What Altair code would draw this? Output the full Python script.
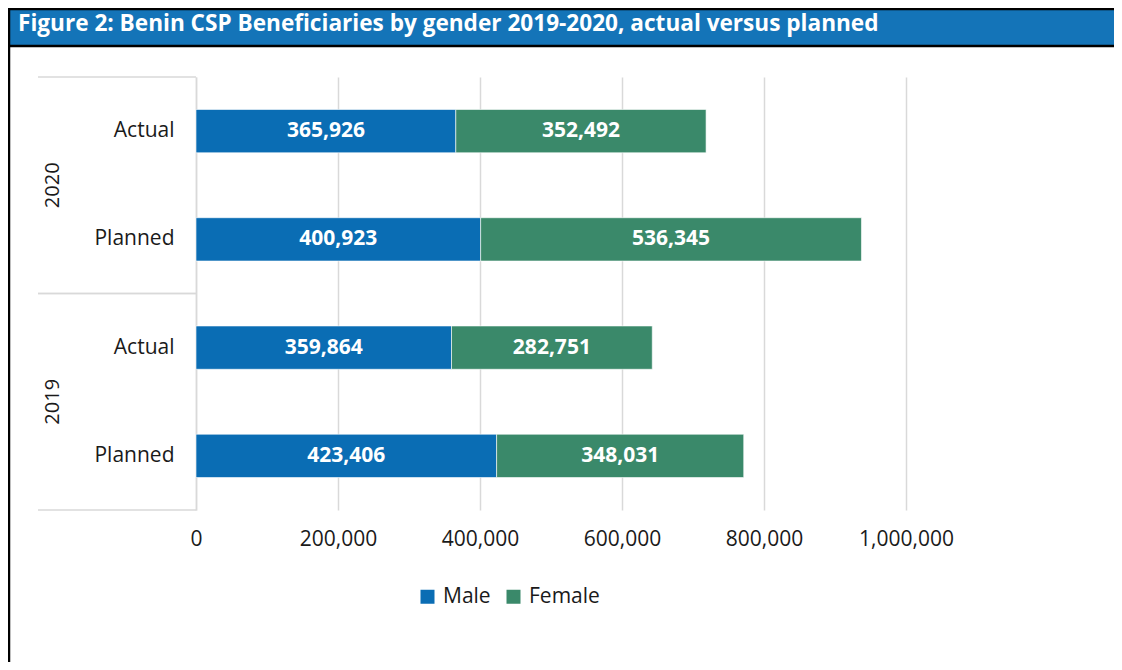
import altair as alt
import pandas as pd

TITLE = "Figure 2: Benin CSP Beneficiaries by gender 2019-2020, actual versus planned"
years = ["2020", "2020", "2019", "2019"]
types = ["Actual", "Planned", "Actual", "Planned"]
male = [365926, 400923, 359864, 423406]
female = [352492, 536345, 282751, 348031]
genders = ["Male", "Female"]
colors = ["#0a6db4", "#3a896a"]
x_ticks = [0, 200000, 400000, 600000, 800000, 1000000]
year_groups = ["2020", "2019"]

rows = []
for y, t, m, f in zip(years, types, male, female):
    key = f"{y}|{t}"
    rows.append(dict(key=key, year=y, type=t, gender="Male", value=m, order=0))
    rows.append(dict(key=key, year=y, type=t, gender="Female", value=f, order=1))
df = pd.DataFrame(rows)
keys = [f"{y}|{t}" for y, t in zip(years, types)]
yr_df = pd.DataFrame({"year": year_groups})

W, H = 710, 433
FONT = "Open Sans"
GRID = "#d9d9d9"
TXT = "#1a1a1a"

xscale = alt.Scale(domain=[0, 1000000], nice=False)
yscale = alt.Scale(domain=keys, paddingInner=0.6, paddingOuter=0.3)
gscale = alt.Scale(domain=year_groups, paddingInner=0, paddingOuter=0)

xaxis = alt.Axis(values=x_ticks, labelExpr="format(datum.value, ',')", grid=True,
                 gridColor=GRID, gridWidth=1.5, domain=False, ticks=False,
                 labelFontSize=21, labelPadding=18, labelColor=TXT, labelFont=FONT,
                 labelFlush=False, title=None)

bars = alt.Chart(df).mark_bar(stroke="white", strokeWidth=0.6).encode(
    x=alt.X("value:Q", stack="zero", scale=xscale, axis=xaxis),
    y=alt.Y("key:N", scale=yscale,
            axis=alt.Axis(labelExpr="split(datum.label, '|')[1]", ticks=False,
                          domain=True, domainColor=GRID, domainWidth=1.5,
                          labelFontSize=21, labelFont=FONT, labelColor=TXT,
                          labelPadding=22, title=None, grid=False)),
    color=alt.Color("gender:N", scale=alt.Scale(domain=genders, range=colors),
                    legend=alt.Legend(orient="none", legendX=221, legendY=509,
                                      direction="horizontal", title=None,
                                      symbolType="square", symbolSize=196,
                                      symbolStrokeWidth=0, labelFontSize=21,
                                      labelFont=FONT, labelColor=TXT, labelOffset=5,
                                      columnPadding=12, padding=0)),
    order=alt.Order("order:Q"),
)

labels = alt.Chart(df).transform_stack(
    stack="value", groupby=["key"], as_=["x0", "x1"], sort=[alt.SortField("order")]
).transform_calculate(mid="(datum.x0 + datum.x1) / 2").mark_text(
    font=FONT, fontWeight="bold", fontSize=21, color="white", baseline="middle"
).encode(
    x=alt.X("mid:Q", scale=xscale, axis=xaxis),
    y=alt.Y("key:N", scale=yscale, axis=None),
    text=alt.Text("value:Q", format=","),
)

sep_top = alt.Chart(yr_df).mark_rule(color=GRID, strokeWidth=1.5).encode(
    y=alt.Y("year:N", scale=gscale, bandPosition=0, axis=None),
    x=alt.value(-158), x2=alt.value(0),
)
sep_bot = alt.Chart(yr_df).mark_rule(color=GRID, strokeWidth=1.5).encode(
    y=alt.Y("year:N", scale=gscale, bandPosition=1, axis=None),
    x=alt.value(-158), x2=alt.value(0),
)
year_txt = alt.Chart(yr_df).mark_text(
    font=FONT, fontSize=20, color=TXT, angle=270, baseline="middle", align="center"
).encode(
    y=alt.Y("year:N", scale=gscale, axis=None),
    x=alt.value(-143),
    text="year:N",
)

one = alt.Data(values=[{"t": TITLE}])
title_bar = alt.Chart(one).mark_rect(color="#1474b8").encode(
    x=alt.value(-188), x2=alt.value(918), y=alt.value(-68), y2=alt.value(-32)
)
title_top = alt.Chart(one).mark_rule(color="black", strokeWidth=2.5).encode(
    x=alt.value(-188), x2=alt.value(918), y=alt.value(-68)
)
title_bottom = alt.Chart(one).mark_rule(color="black", strokeWidth=2.5).encode(
    x=alt.value(-188), x2=alt.value(918), y=alt.value(-31)
)
left_border = alt.Chart(one).mark_rule(color="black", strokeWidth=2.5).encode(
    x=alt.value(-187), y=alt.value(-69), y2=alt.value(590)
)
title_txt = alt.Chart(one).mark_text(
    font=FONT, fontWeight="bold", fontSize=22.6, color="white", align="left",
    baseline="alphabetic"
).encode(x=alt.value(-178), y=alt.value(-46), text="t:N")

chart = alt.layer(
    title_bar, title_top, title_bottom, left_border, title_txt,
    sep_top, sep_bot, year_txt, bars, labels
).resolve_scale(y="independent").properties(
    width=W, height=H,
    autosize=alt.AutoSizeParams(type="none"),
    padding={"left": 188, "top": 69, "right": 208, "bottom": 152},
    background="white",
).configure_view(stroke=None)

chart.save("out.html", embed_options={"renderer": "svg", "actions": False})
